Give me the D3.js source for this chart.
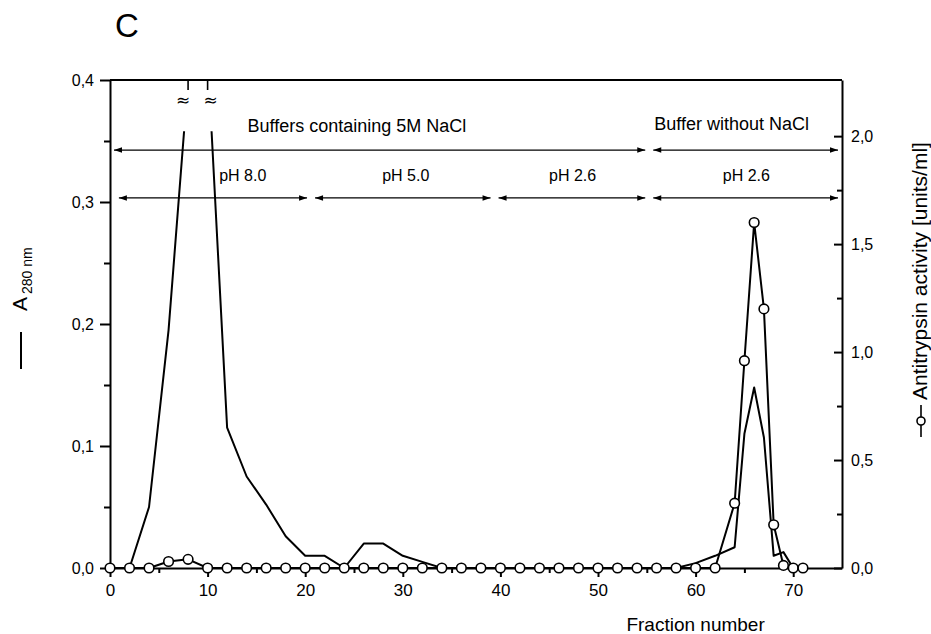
<!DOCTYPE html>
<html lang="en">
<head>
<meta charset="UTF-8">
<title>Elution profile C</title>
<script src="https://d3js.org/d3.v7.min.js"></script>
<style>
    body { margin: 0; background: #fff; }
    svg { display: block; font-family: "Liberation Sans", Arial, sans-serif; }
    .axis path, .axis line { stroke: #000; stroke-width: 2; }
    .axis text { fill: #000; font-size: 16px; }
    .x-axis text { font-size: 17px; }
    .trace { fill: none; stroke: #000; stroke-width: 2; stroke-linejoin: round; }
    .dot { fill: #fff; stroke: #000; stroke-width: 1.6; }
    .arrow { stroke: #000; stroke-width: 1.3; }
    .note { font-size: 18px; fill: #000; }
    .ph { font-size: 16px; fill: #000; }
    .brk { font-family: "DejaVu Sans", sans-serif; font-size: 17px; fill: #000; }
</style>
</head>
<body>
<svg id="chart" width="931" height="634"></svg>
<script>
// A280 trace, left axis (8 and 10 are off scale, line is broken at the top)
const a280Fractions = [0, 2, 4, 6, 8, 10, 12, 14, 16, 18, 20, 22, 24, 26, 28, 30, 32, 34, 36, 38, 40,
    42, 44, 46, 48, 50, 52, 54, 56, 58, 60, 62, 64, 65, 66, 67, 68, 69, 70];
const a280Values = [0, 0, 0.05, 0.195, 0.40, 0.42, 0.115, 0.075, 0.052, 0.026, 0.01, 0.01, 0, 0.02, 0.02, 0.01, 0.005, 0, 0, 0, 0,
    0, 0, 0, 0, 0, 0, 0, 0, 0, 0.004, 0.01, 0.017, 0.11, 0.148, 0.107, 0.01, 0.013, 0];

// antitrypsin activity, right axis
const actFractions = [0, 2, 4, 6, 8, 10, 12, 14, 16, 18, 20, 22, 24, 26, 28, 30, 32, 34, 36, 38, 40,
    42, 44, 46, 48, 50, 52, 54, 56, 58, 60, 62, 64, 65, 66, 67, 68, 69, 70, 71];
const actValues = [0, 0, 0, 0.03, 0.04, 0, 0, 0, 0, 0, 0, 0, 0, 0, 0, 0, 0, 0, 0, 0, 0,
    0, 0, 0, 0, 0, 0, 0, 0, 0, 0, 0, 0.30, 0.96, 1.60, 1.20, 0.20, 0.012, 0, 0];

const xTicks = [0, 10, 20, 30, 40, 50, 60, 70];
const xMinor = [5, 15, 25, 35, 45, 55, 65];
const leftTicks = [0, 0.1, 0.2, 0.3, 0.4];
const leftMinor = [0.05, 0.15, 0.25, 0.35];
const rightTicks = [0, 0.5, 1.0, 1.5, 2.0];
const rightMinor = [0.25, 0.75, 1.25, 1.75];

// buffer sections (fraction numbers)
const bufferBounds = [0, 55.25, 75];
const bufferLabels = ["Buffers containing 5M NaCl", "Buffer without NaCl"];
const bufferLabelX = [25.3, 63.7];
const phBounds = [0.5, 20.6, 39.4, 55.25, 75];
const phLabels = ["pH 8.0", "pH 5.0", "pH 2.6", "pH 2.6"];
const phLabelX = [13.6, 30.3, 47.4, 65.2];
const breakFractions = [8, 10];

const svg = d3.select("#chart");
const comma = d => d3.format(".1f")(d).replace(".", ",");

const x = d3.scaleLinear().domain([0, 75]).range([110, 842]);
const yL = d3.scaleLinear().domain([0, 0.4]).range([568, 80]);
const yR = d3.scaleLinear().domain([0, 2.26]).range([568, 80]);

svg.append("text")
    .attr("x", 115).attr("y", 37)
    .style("font-size", "33px")
    .text("C");

// arrow heads
const defs = svg.append("defs");
defs.append("marker")
    .attr("id", "head")
    .attr("viewBox", "0 -5 10 10")
    .attr("refX", 10).attr("refY", 0)
    .attr("markerUnits", "userSpaceOnUse")
    .attr("markerWidth", 10).attr("markerHeight", 8)
    .attr("orient", "auto-start-reverse")
    .append("path").attr("d", "M0,-3.5L10,0L0,3.5Z").attr("fill", "#000");

defs.append("clipPath").attr("id", "brk")
    .append("rect")
    .attr("x", 0).attr("y", yL(0.358))
    .attr("width", 931).attr("height", 634 - yL(0.358));

// axes
svg.append("g").attr("class", "axis")
    .attr("transform", `translate(${x(0)},0)`)
    .call(d3.axisLeft(yL).tickValues(leftTicks).tickFormat(comma).tickSize(10).tickSizeOuter(0).tickPadding(6));
svg.append("g").attr("class", "axis")
    .attr("transform", `translate(${x(0)},0)`)
    .call(d3.axisLeft(yL).tickValues(leftMinor).tickFormat("").tickSize(6).tickSizeOuter(0))
    .select(".domain").remove();

svg.append("g").attr("class", "axis")
    .attr("transform", `translate(${x(75)},0)`)
    .call(d3.axisRight(yR).tickValues(rightTicks).tickFormat(comma).tickSize(-8).tickSizeOuter(0).tickPadding(9));
svg.append("g").attr("class", "axis")
    .attr("transform", `translate(${x(75)},0)`)
    .call(d3.axisRight(yR).tickValues(rightMinor).tickFormat("").tickSize(-5).tickSizeOuter(0))
    .select(".domain").remove();

svg.append("g").attr("class", "axis x-axis")
    .attr("transform", `translate(0,${yL(0)})`)
    .call(d3.axisBottom(x).tickValues(xTicks).tickFormat(d3.format("d")).tickSize(9).tickSizeOuter(0).tickPadding(7));
svg.append("g").attr("class", "axis")
    .attr("transform", `translate(0,${yL(0)})`)
    .call(d3.axisBottom(x).tickValues(xMinor).tickFormat("").tickSize(5).tickSizeOuter(0))
    .select(".domain").remove();

svg.append("line")
    .attr("x1", x(0)).attr("x2", x(75))
    .attr("y1", yL(0.4)).attr("y2", yL(0.4))
    .attr("stroke", "#000").attr("stroke-width", 2);

// axis titles
const leftTitle = svg.append("text")
    .attr("transform", "translate(27,311) rotate(-90)")
    .style("fill", "#000");
leftTitle.append("tspan").style("font-size", "21px").text("A");
leftTitle.append("tspan").style("font-size", "14px").attr("dx", 3).attr("dy", 5).text("280 nm");
svg.append("line")
    .attr("x1", 21).attr("x2", 21).attr("y1", 332).attr("y2", 369)
    .attr("stroke", "#000").attr("stroke-width", 2);

svg.append("text")
    .attr("transform", "translate(927,400) rotate(-90)")
    .style("font-size", "21px")
    .text("Antitrypsin activity [units/ml]");
svg.append("line")
    .attr("x1", 921).attr("x2", 921).attr("y1", 405).attr("y2", 437)
    .attr("stroke", "#000").attr("stroke-width", 1.6);
svg.append("circle")
    .attr("cx", 921).attr("cy", 421).attr("r", 4)
    .attr("class", "dot");

svg.append("text")
    .attr("x", x(60)).attr("y", 631)
    .attr("text-anchor", "middle")
    .style("font-size", "19px")
    .text("Fraction number");

// buffer arrows
const inset = 4;
function arrowRow(bounds, yv) {
    svg.append("g").selectAll("line")
        .data(d3.pairs(bounds))
        .join("line")
        .attr("class", "arrow")
        .attr("x1", d => x(d[0]) + inset)
        .attr("x2", d => x(d[1]) - inset)
        .attr("y1", yL(yv)).attr("y2", yL(yv))
        .attr("marker-start", "url(#head)")
        .attr("marker-end", "url(#head)");
}
arrowRow(bufferBounds, 0.3426);
arrowRow(phBounds, 0.3033);

svg.append("g").selectAll("text")
    .data(bufferLabels)
    .join("text")
    .attr("class", "note")
    .attr("x", (d, i) => x(bufferLabelX[i]))
    .attr("y", (d, i) => yL(i === 0 ? 0.3576 : 0.3594))
    .attr("text-anchor", "middle")
    .text(d => d);

svg.append("g").selectAll("text")
    .data(phLabels)
    .join("text")
    .attr("class", "ph")
    .attr("x", (d, i) => x(phLabelX[i]))
    .attr("y", yL(0.3172))
    .attr("text-anchor", "middle")
    .text(d => d);

// A280 trace
const a280 = a280Fractions.map((f, i) => [f, a280Values[i]]);
svg.append("path")
    .datum(a280)
    .attr("class", "trace")
    .attr("clip-path", "url(#brk)")
    .attr("d", d3.line().x(d => x(d[0])).y(d => yL(d[1])));

// axis break marks
svg.append("g").selectAll("line")
    .data(breakFractions)
    .join("line")
    .attr("x1", d => x(d)).attr("x2", d => x(d))
    .attr("y1", yL(0.4)).attr("y2", yL(0.4) + 10)
    .attr("stroke", "#000").attr("stroke-width", 1.6);
svg.append("g").selectAll("text")
    .data(breakFractions)
    .join("text")
    .attr("class", "brk")
    .attr("x", (d, i) => x(d) + (i === 0 ? -5 : 3))
    .attr("y", yL(0.4) + 26)
    .attr("text-anchor", "middle")
    .text("≈");

// activity trace
const act = actFractions.map((f, i) => [f, actValues[i]]);
svg.append("path")
    .datum(act)
    .attr("class", "trace")
    .attr("d", d3.line().x(d => x(d[0])).y(d => yR(d[1])));
svg.append("g").selectAll("circle")
    .data(act)
    .join("circle")
    .attr("class", "dot")
    .attr("cx", d => x(d[0]))
    .attr("cy", d => yR(d[1]))
    .attr("r", 4.8);
</script>
</body>
</html>
